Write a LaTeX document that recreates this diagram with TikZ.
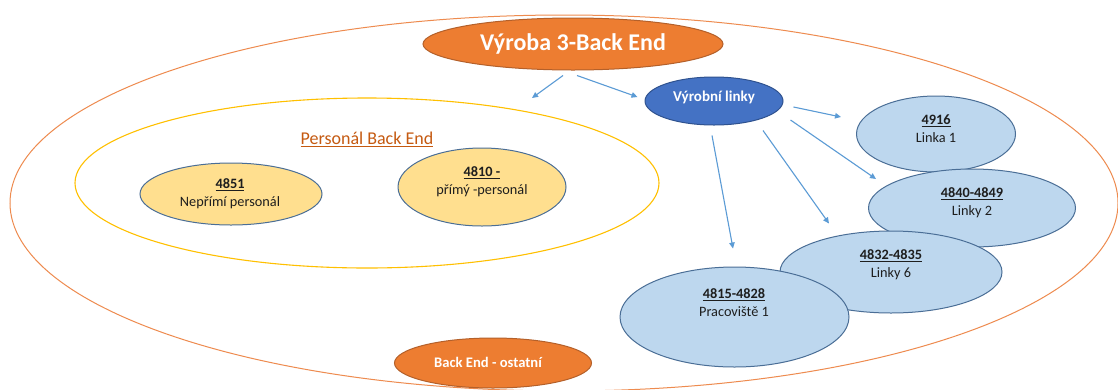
\documentclass[tikz,border=0pt]{standalone}
\usepackage{fontspec}
\setmainfont{Carlito}
\usetikzlibrary{arrows.meta,shapes.geometric}

\definecolor{ringorange}{HTML}{EE8B4F}
\definecolor{ringyellow}{HTML}{FFC000}
\definecolor{headfill}{HTML}{ED7D31}
\definecolor{headline}{HTML}{B4602A}
\definecolor{linefill}{HTML}{4472C4}
\definecolor{lineline}{HTML}{2F528F}
\definecolor{staffill}{HTML}{FFDF8F}
\definecolor{cellfill}{HTML}{BDD7EE}
\definecolor{celledge}{HTML}{4A6E96}
\definecolor{arrowblue}{HTML}{5B9BD5}
\definecolor{caption}{HTML}{C55A11}
\definecolor{ink}{HTML}{1E1E1E}

\tikzset{
  oval/.style={ellipse, inner sep=0pt, line width=1pt},
  headoval/.style={oval, fill=headfill, draw=headline},
  bluoval/.style={oval, fill=linefill, draw=lineline},
  staffoval/.style={oval, fill=staffill, draw=celledge},
  celloval/.style={oval, fill=cellfill, draw=celledge},
  celltext/.style={align=center, text=ink, inner sep=0pt, font=\fontsize{14.3}{18}\selectfont},
  flow/.style={draw=arrowblue, line width=1.1pt, -{Triangle[length=6pt,width=5.5pt]}},
}

\begin{document}
\begin{tikzpicture}[x=1pt,y=-1pt]
\useasboundingbox (0,0) rectangle (1118,389);
\fill[white] (0,0) rectangle (1118,389);

% enclosing rings
\draw[ringorange, line width=1pt] (564,203) ellipse [x radius=554pt, y radius=188pt];
\draw[ringyellow, line width=1.1pt] (367,183) ellipse [x radius=292pt, y radius=85pt];

% staff group
\node[text=caption, font=\fontsize{18}{22}\selectfont, inner sep=0pt] (staffcap) at (367,139) {\underline{Personál Back End}};
\node[staffoval, minimum width=182pt, minimum height=62pt] (n4851) at (231,194) {};
\node[celltext] (t4851) at (230,194) {\textbf{\underline{4851}}\\Nepřímí personál};
\node[staffoval, minimum width=168pt, minimum height=78pt] (n4810) at (482,187) {};
\node[celltext] (t4810) at (482,182) {\textbf{\underline{4810 -}}\\přímý -personál};

% production lines
\node[celloval, minimum width=159pt, minimum height=76pt] (n4916) at (936,134) {};
\node[celltext] (t4916) at (936,129) {\textbf{\underline{4916}}\\Linka 1};
\node[celloval, minimum width=207pt, minimum height=78pt] (n4840) at (972,208) {};
\node[celltext] (t4840) at (972,202.5) {\textbf{\underline{4840-4849}}\\Linky 2};
\node[celloval, minimum width=222pt, minimum height=82pt] (n4832) at (891,272) {};
\node[celltext] (t4832) at (891,265) {\textbf{\underline{4832-4835}}\\Linky 6};
\node[celloval, minimum width=229pt, minimum height=100pt] (n4815) at (734.5,317) {};
\node[celltext] (t4815) at (734,303) {\textbf{\underline{4815-4828}}\\Pracoviště 1};

% headline and hubs
\node[headoval, minimum width=300pt, minimum height=52pt, text=white,
      font=\bfseries\fontsize{24}{28}\selectfont] (title) at (573,44) {Výroba 3-Back End};
\node[bluoval, minimum width=138pt, minimum height=48pt] (vl) at (714,101) {};
\node[text=white, font=\bfseries\fontsize{15}{18}\selectfont, inner sep=0pt] (vltext) at (714,97) {Výrobní linky};
\node[headoval, minimum width=197pt, minimum height=50pt] (other) at (493,363) {};
\node[text=white, font=\bfseries\fontsize{14.6}{17}\selectfont, inner sep=0pt] (othertext) at (488,362) {Back End - ostatní};

% connectors
\coordinate (staffend) at (532,98);
\draw[flow] ([shift={(-10,5)}]title.south) -- (staffend);
\draw[flow] ([shift={(4,5)}]title.south) -- ([shift={(-7,-4)}]vl.west);
\draw[flow] ([shift={(10,6)}]vl.east) -- ([shift={(-15,-17)}]n4916.west);
\draw[flow] ([shift={(7,19)}]vl.east) -- ([shift={(8,-29)}]n4840.west);
\draw[flow] ([shift={(49,5)}]vl.south) -- ([shift={(-62,-7)}]n4832.north);
\draw[flow] ([shift={(-2,10)}]vl.south) -- ([shift={(-1.5,-18)}]n4815.north);
\end{tikzpicture}
\end{document}
